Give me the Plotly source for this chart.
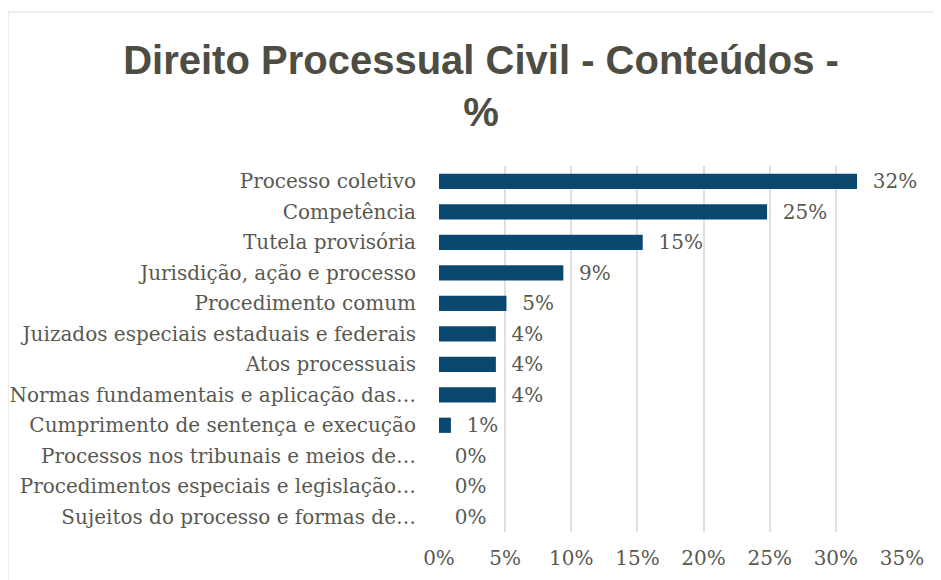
import plotly.graph_objects as go

# categories top -> bottom as in the chart
temas = [
    "Processo coletivo",
    "Competência",
    "Tutela provisória",
    "Jurisdição, ação e processo",
    "Procedimento comum",
    "Juizados especiais estaduais e federais",
    "Atos processuais",
    "Normas fundamentais e aplicação das…",
    "Cumprimento de sentença e execução",
    "Processos nos tribunais e meios de…",
    "Procedimentos especiais e legislação…",
    "Sujeitos do processo e formas de…",
]
percentuais = [31.6, 24.8, 15.4, 9.4, 5.1, 4.3, 4.3, 4.3, 0.9, 0.0, 0.0, 0.0]
ticks_x = [0, 5, 10, 15, 20, 25, 30, 35]

rotulos = ["\u00a0\u00a0" + "{:.0f}%".format(v) for v in percentuais]

cor_barra = "#0B4870"
cor_texto = "#595950"
fonte_serif = "DejaVu Serif, Liberation Serif, serif"

fig = go.Figure()
fig.add_trace(go.Bar(
    x=percentuais,
    y=temas,
    orientation="h",
    marker=dict(color=cor_barra, line=dict(width=0)),
    text=rotulos,
    textposition="outside",
    constraintext="none",
    cliponaxis=False,
    textfont=dict(family=fonte_serif, size=20, color=cor_texto),
))

# page body has an 8px margin, so everything is placed 8px up/left
fig.update_layout(
    width=941,
    height=580,
    paper_bgcolor="white",
    plot_bgcolor="white",
    margin=dict(l=431, r=47, t=158, b=56),
    bargap=0.5,
    showlegend=False,
    title=dict(
        text="Direito Processual Civil - Conteúdos -<br>%",
        font=dict(family="Liberation Sans Narrow, Arial Narrow, Liberation Sans, sans-serif", size=40,
                  color="#4d4d44", weight="bold"),
        x=0.5027,
        xanchor="center",
        xref="container",
        y=0.887,
        yanchor="top",
        yref="container",
    ),
    xaxis=dict(
        range=[0, 35],
        tickvals=ticks_x,
        ticktext=["{}%".format(t) for t in ticks_x],
        showgrid=True,
        gridcolor="#e0e0e0",
        gridwidth=1.5,
        zeroline=False,
        showline=False,
        ticks="",
        automargin=False,
        ticklabelstandoff=12,
        tickfont=dict(family=fonte_serif, size=20, color=cor_texto),
    ),
    yaxis=dict(
        categoryorder="array",
        categoryarray=temas[::-1],
        showgrid=False,
        ticks="",
        showline=False,
        automargin=False,
        ticklabelstandoff=22,
        tickfont=dict(family=fonte_serif, size=20, color=cor_texto),
    ),
    shapes=[dict(
        type="rect", xref="paper", yref="paper",
        x0=(0 - 431) / 463, x1=(927 - 431) / 463,
        y0=(524 - 600) / 366, y1=(524 - 4) / 366,
        line=dict(color="#d9d9d9", width=1),
        fillcolor="rgba(0,0,0,0)",
        layer="below",
    )],
)

fig.write_html("out.html")
